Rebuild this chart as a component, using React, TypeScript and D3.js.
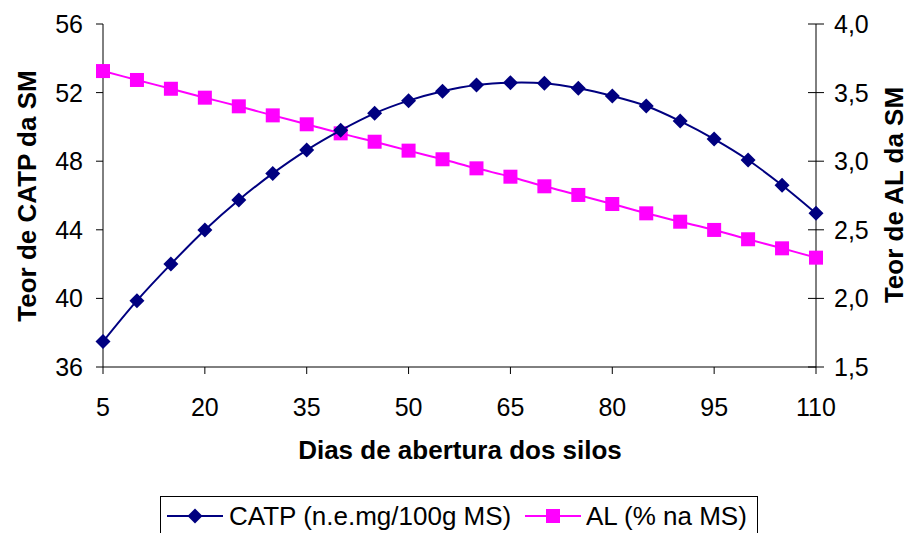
import React from "react";
import * as d3 from "d3";

const days = [5, 10, 15, 20, 25, 30, 35, 40, 45, 50, 55, 60, 65, 70, 75, 80, 85, 90, 95, 100, 105, 110];
const catp = [37.48, 39.87, 42.0, 43.99, 45.74, 47.29, 48.65, 49.8, 50.79, 51.53, 52.08, 52.44, 52.58, 52.54, 52.25, 51.8, 51.22, 50.34, 49.29, 48.07, 46.6, 44.96];
const al = [3.657, 3.592, 3.528, 3.463, 3.4, 3.334, 3.269, 3.203, 3.142, 3.077, 3.014, 2.948, 2.887, 2.817, 2.754, 2.688, 2.62, 2.559, 2.499, 2.431, 2.365, 2.297];
const xTicks = [5, 20, 35, 50, 65, 80, 95, 110];
const leftTicks = [36, 40, 44, 48, 52, 56];
const rightTicks = [1.5, 2.0, 2.5, 3.0, 3.5, 4.0];
const xTitle = "Dias de abertura dos silos";
const leftTitle = "Teor de CATP da SM";
const rightTitle = "Teor de AL da SM";
const seriesNames = ["CATP (n.e.mg/100g MS)", "AL (% na MS)"];

const W = 908, H = 533;
const L = 103, R = 816, T = 24, B = 367;
const NAVY = "#000080", MAG = "#FF00FF";
const FONT = "Liberation Sans, Arial, sans-serif";
const FS = 25;
const FT = 26;

export default function App() {
  const x = d3.scaleLinear().domain([5, 110]).range([L, R]);
  const yL = d3.scaleLinear().domain([36, 56]).range([B, T]);
  const yR = d3.scaleLinear().domain([1.5, 4.0]).range([B, T]);
  const lineL = d3.line<number>().x((_, i) => x(days[i])).y(d => yL(d)).curve(d3.curveCatmullRom);
  const lineR = d3.line<number>().x((_, i) => x(days[i])).y(d => yR(d)).curve(d3.curveCatmullRom);
  const fmt = (v: number) => v.toFixed(1).replace(".", ",");
  const diamond = (cx: number, cy: number, s = 7.5) => `M${cx},${cy - s}L${cx + s},${cy}L${cx},${cy + s}L${cx - s},${cy}Z`;

  return (
    <svg width={W} height={H} style={{ position: "absolute", left: 0, top: 0, background: "#fff" }} fontFamily={FONT}>
      <rect x={0} y={0} width={W} height={H} fill="#fff" />
      <line x1={L} y1={T} x2={L} y2={B} stroke="#000" strokeWidth={1} />
      <line x1={L} y1={B} x2={R} y2={B} stroke="#000" strokeWidth={1} />
      <line x1={R} y1={T} x2={R} y2={B} stroke="#000" strokeWidth={1} />
      {leftTicks.map(t => (
        <g key={"l" + t}>
          <line x1={L - 7} x2={L} y1={yL(t)} y2={yL(t)} stroke="#000" />
          <text x={L - 20} y={yL(t) + 9} textAnchor="end" fontSize={FS}>{t}</text>
        </g>
      ))}
      {rightTicks.map(t => (
        <g key={"r" + t}>
          <line x1={R - 8} x2={R + 8} y1={yR(t)} y2={yR(t)} stroke="#000" />
          <text x={R + 18} y={yR(t) + 9} textAnchor="start" fontSize={FS}>{fmt(t)}</text>
        </g>
      ))}
      {xTicks.map(t => (
        <g key={"x" + t}>
          <line x1={x(t)} x2={x(t)} y1={B} y2={B + 7} stroke="#000" />
          <text x={x(t)} y={416} textAnchor="middle" fontSize={FS}>{t}</text>
        </g>
      ))}
      <text x={460} y={459} textAnchor="middle" fontSize={FT} fontWeight="bold">{xTitle}</text>
      <text transform={`translate(36,196) rotate(-90)`} textAnchor="middle" fontSize={FT} fontWeight="bold">{leftTitle}</text>
      <text transform={`translate(903,195) rotate(-90)`} textAnchor="middle" fontSize={FT} fontWeight="bold">{rightTitle}</text>

      <path d={lineR(al) || ""} fill="none" stroke={MAG} strokeWidth={2} />
      {al.map((v, i) => (
        <rect key={"s" + i} x={x(days[i]) - 7} y={yR(v) - 7} width={14} height={14} fill={MAG} />
      ))}
      <path d={lineL(catp) || ""} fill="none" stroke={NAVY} strokeWidth={2} />
      {catp.map((v, i) => (
        <path key={"d" + i} d={diamond(x(days[i]), yL(v))} fill={NAVY} />
      ))}

      <rect x={160.5} y={496.5} width={597} height={45} fill="#fff" stroke="#000" strokeWidth={1} />
      <line x1={167} x2={223} y1={516} y2={516} stroke={NAVY} strokeWidth={2} />
      <path d={diamond(195, 516)} fill={NAVY} />
      <text x={229} y={525} fontSize={FT}>{seriesNames[0]}</text>
      <line x1={525} x2={581} y1={516} y2={516} stroke={MAG} strokeWidth={2} />
      <rect x={546} y={509} width={14} height={14} fill={MAG} />
      <text x={586} y={525} fontSize={FT}>{seriesNames[1]}</text>
    </svg>
  );
}
